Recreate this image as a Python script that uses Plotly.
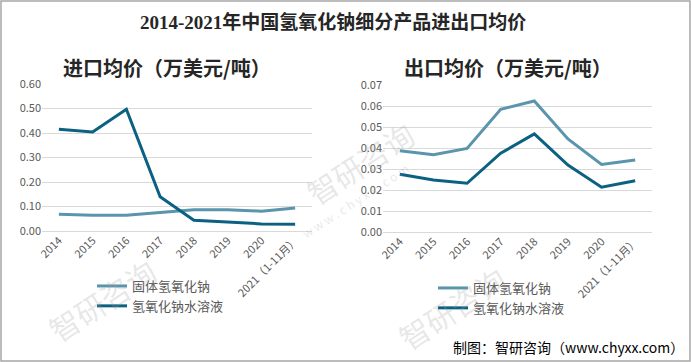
import plotly.graph_objects as go

years = ["2014", "2015", "2016", "2017", "2018", "2019", "2020", "2021（1-11月）"]
series_names = ["固体氢氧化钠", "氢氧化钠水溶液"]
import_solid = [0.068, 0.064, 0.064, 0.076, 0.087, 0.087, 0.081, 0.094]
import_solution = [0.415, 0.404, 0.497, 0.140, 0.044, 0.037, 0.029, 0.028]
export_solid = [0.0387, 0.0368, 0.0398, 0.0584, 0.0624, 0.0443, 0.0322, 0.0343]
export_solution = [0.0275, 0.0248, 0.0232, 0.0375, 0.0467, 0.0319, 0.0213, 0.0244]

title_text = "2014-2021年中国氢氧化钠细分产品进出口均价"
left_title = "进口均价（万美元/吨）"
right_title = "出口均价（万美元/吨）"
source_text = "制图：智研咨询（www.chyxx.com）"
wm_name = "智研咨询"
wm_url = "w w w . c h y x x . c o m"

c_light = "#5A95AD"
c_dark = "#0B6182"
W, H = 691, 362
FONT = "Noto Sans CJK SC"
gray = "#595959"

fig = go.Figure()
fig.add_trace(go.Scatter(x=years, y=import_solid, name=series_names[0], mode="lines",
                         line=dict(color=c_light, width=3), xaxis="x", yaxis="y", legend="legend"))
fig.add_trace(go.Scatter(x=years, y=import_solution, name=series_names[1], mode="lines",
                         line=dict(color=c_dark, width=3), xaxis="x", yaxis="y", legend="legend"))
fig.add_trace(go.Scatter(x=years, y=export_solid, name=series_names[0], mode="lines",
                         line=dict(color=c_light, width=3), xaxis="x2", yaxis="y2", legend="legend2"))
fig.add_trace(go.Scatter(x=years, y=export_solution, name=series_names[1], mode="lines",
                         line=dict(color=c_dark, width=3), xaxis="x2", yaxis="y2", legend="legend2"))

def px(v):
    return v / W

def py(v):
    return 1 - v / H

xcommon = dict(type="category", tickangle=-45, showgrid=False, showline=False, zeroline=False,
               tickfont=dict(family=FONT, size=11, color=gray), ticks="", fixedrange=True,
               automargin=False)
ycommon = dict(showgrid=True, gridcolor="#D9D9D9", gridwidth=1, zeroline=True, zerolinecolor="#D9D9D9",
               zerolinewidth=1, showline=False, ticks="", tickformat=".2f", automargin=False,
               tickfont=dict(family=FONT, size=11, color=gray), fixedrange=True)

fig.update_layout(
    template="none",
    width=W, height=H,
    margin=dict(l=0, r=0, t=0, b=0, pad=0),
    paper_bgcolor="white", plot_bgcolor="white",
    font=dict(family=FONT),
    xaxis=dict(domain=[px(42), px(312)], anchor="y", range=[-0.5, 7.5], **xcommon),
    yaxis=dict(domain=[py(231), py(84)], anchor="x", range=[0, 0.6], dtick=0.1, **ycommon),
    xaxis2=dict(domain=[px(383), px(652)], anchor="y2", range=[-0.5, 7.5], **xcommon),
    yaxis2=dict(domain=[py(232), py(85)], anchor="x2", range=[0, 0.07], dtick=0.01, **ycommon),
    legend=dict(x=px(92), y=py(271), xanchor="left", yanchor="top", orientation="v",
                font=dict(family=FONT, size=13, color=gray), bgcolor="rgba(0,0,0,0)",
                tracegroupgap=0, itemwidth=30),
    legend2=dict(x=px(433), y=py(273), xanchor="left", yanchor="top", orientation="v",
                 font=dict(family=FONT, size=13, color=gray), bgcolor="rgba(0,0,0,0)",
                 tracegroupgap=0, itemwidth=30),
    showlegend=True,
)

# faint watermarks that lie fully inside the picture
wm_text_pos = [(360, 163), (452, 308), (102, 300)]
wm_url_pos = [(355, 200)]
for cx, cy in wm_text_pos:
    fig.add_annotation(text=wm_name, x=px(cx), y=py(cy), xref="paper", yref="paper",
                       xanchor="center", yanchor="middle", showarrow=False, textangle=-33,
                       font=dict(family=FONT, size=30, color="rgba(160,160,160,0.25)"))
for cx, cy in wm_url_pos:
    fig.add_annotation(text=wm_url, x=px(cx), y=py(cy), xref="paper", yref="paper",
                       xanchor="center", yanchor="middle", showarrow=False, textangle=-33,
                       font=dict(family=FONT, size=12, color="rgba(160,160,160,0.25)"))

fig.add_annotation(text="<b>" + title_text + "</b>", x=px(333), y=py(22), xref="paper", yref="paper",
                   xanchor="center", yanchor="middle", showarrow=False,
                   font=dict(family="Liberation Serif, " + FONT, size=19, color="#262626"))
fig.add_annotation(text="<b>" + left_title + "</b>", x=px(61), y=py(68), xref="paper", yref="paper",
                   xanchor="left", yanchor="middle", showarrow=False,
                   font=dict(family=FONT, size=20, color="#262626"))
fig.add_annotation(text="<b>" + right_title + "</b>", x=px(402), y=py(68), xref="paper", yref="paper",
                   xanchor="left", yanchor="middle", showarrow=False,
                   font=dict(family=FONT, size=20, color="#262626"))
fig.add_annotation(text=source_text, x=px(686), y=py(347), xref="paper", yref="paper",
                   xanchor="right", yanchor="middle", showarrow=False,
                   font=dict(family=FONT, size=14, color="#000000"))

fig.add_shape(type="rect", xref="paper", yref="paper", x0=px(1), y0=py(361), x1=px(690), y1=py(1),
              line=dict(color="#A6A6A6", width=1.5), fillcolor="rgba(0,0,0,0)", layer="above")

fig.write_html("out.html", config={"displayModeBar": False},
               post_script="document.body.style.margin='0';document.body.style.overflow='hidden';")
